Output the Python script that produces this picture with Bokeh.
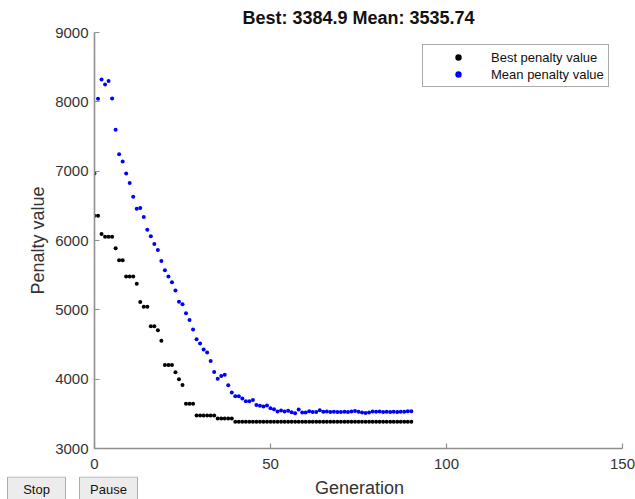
from bokeh.plotting import figure
from bokeh.layouts import column
from bokeh.models import Legend, LegendItem, Range1d, FixedTicker
from bokeh.core.properties import value
from bokeh.embed import file_html
from bokeh.resources import INLINE

# Genetic algorithm progress: penalty per generation
generations = list(range(91))

best_penalty = [
    6356, 6356, 6092, 6055, 6055, 6055, 5887, 5714, 5714, 5481,
    5481, 5481, 5375, 5112, 5045, 5045, 4763, 4763, 4706, 4555,
    4204, 4204, 4204, 4098, 3997, 3917, 3644, 3644, 3644, 3476,
    3476, 3476, 3476, 3476, 3476, 3433, 3433, 3433, 3433, 3433,
    3384.9, 3384.9, 3384.9, 3384.9, 3384.9, 3384.9, 3384.9, 3384.9, 3384.9, 3384.9,
    3384.9, 3384.9, 3384.9, 3384.9, 3384.9, 3384.9, 3384.9, 3384.9, 3384.9, 3384.9,
    3384.9, 3384.9, 3384.9, 3384.9, 3384.9, 3384.9, 3384.9, 3384.9, 3384.9, 3384.9,
    3384.9, 3384.9, 3384.9, 3384.9, 3384.9, 3384.9, 3384.9, 3384.9, 3384.9, 3384.9,
    3384.9, 3384.9, 3384.9, 3384.9, 3384.9, 3384.9, 3384.9, 3384.9, 3384.9, 3384.9,
    3384.9,
]

mean_penalty = [
    6967, 8043, 8321, 8250, 8301, 8049, 7598, 7245, 7139, 6967,
    6829, 6630, 6458, 6470, 6340, 6155, 6063, 5948, 5862, 5705,
    5571, 5481, 5399, 5280, 5115, 5079, 4950, 4855, 4715, 4574,
    4515, 4428, 4385, 4261, 4103, 4007, 4045, 4065, 3912, 3806,
    3753, 3753, 3720, 3681, 3681, 3701, 3629, 3615, 3605, 3620,
    3581, 3567, 3534, 3548, 3534, 3543, 3524, 3510, 3563, 3519,
    3519, 3538, 3525, 3528, 3552, 3530, 3535, 3527, 3530, 3528,
    3526, 3530, 3527, 3533, 3540, 3530, 3518, 3512, 3520, 3535,
    3530, 3532, 3527, 3530, 3526, 3530, 3528, 3531, 3530, 3538,
    3535.74,
]

x_ticks = [0, 50, 100, 150]
y_ticks = [3000, 4000, 5000, 6000, 7000, 8000, 9000]

button_names = ["Stop", "Pause"]

FONT = "Liberation Sans"
AXIS_GRAY = "#8f8f8f"
TEXT_DARK = "#333333"

p = figure(width=635, height=476,
           x_range=Range1d(0, 150), y_range=Range1d(3000, 9000),
           output_backend="svg", toolbar_location=None,
           min_border_left=94, min_border_right=13,
           min_border_top=30, min_border_bottom=28,
           background_fill_color="white", border_fill_color="white")

p.title.text = f"Best: {best_penalty[-1]} Mean: {mean_penalty[-1]}"
p.title.align = "center"
p.title.text_font = FONT
p.title.text_font_size = "18px"
p.title.text_font_style = "bold"
p.title.text_color = "#111111"

p.outline_line_color = None
p.xgrid.grid_line_color = None
p.ygrid.grid_line_color = None

p.xaxis.ticker = FixedTicker(ticks=x_ticks)
p.yaxis.ticker = FixedTicker(ticks=y_ticks)
p.yaxis.axis_label = "Penalty value"

for ax in (p.xaxis, p.yaxis):
    ax.axis_line_color = AXIS_GRAY
    ax.axis_line_width = 1.6
    ax.major_tick_line_color = AXIS_GRAY
    ax.major_tick_line_width = 1.2
    ax.major_tick_in = 5
    ax.major_tick_out = 0
    ax.minor_tick_line_color = None
    ax.major_label_text_font = FONT
    ax.major_label_text_font_size = "15px"
    ax.major_label_text_color = TEXT_DARK
    ax.axis_label_text_font = FONT
    ax.axis_label_text_font_size = "18px"
    ax.axis_label_text_font_style = "normal"
    ax.axis_label_text_color = TEXT_DARK

p.xaxis.major_label_standoff = 10
p.yaxis.major_label_standoff = 6
p.yaxis.axis_label_standoff = 4

r_best = p.scatter(generations, best_penalty, marker="circle", size=4,
                   fill_color="black", line_color=None)
r_mean = p.scatter(generations, mean_penalty, marker="circle", size=4,
                   fill_color="#0000ff", line_color=None)

legend = Legend(items=[LegendItem(label="Best penalty value", renderers=[r_best]),
                       LegendItem(label="Mean penalty value", renderers=[r_mean])],
                location=(328, 361), orientation="vertical",
                label_text_font=FONT, label_text_font_size="13px",
                label_text_color="#111111",
                glyph_width=62, glyph_height=16, label_height=16,
                label_standoff=2, spacing=1, padding=4, margin=0,
                border_line_color="#555555", border_line_width=1,
                background_fill_color="white", background_fill_alpha=1)
p.add_layout(legend)

# Bottom strip: Stop / Pause buttons and the x-axis title, in pixel units
strip = figure(width=635, height=23,
               x_range=Range1d(0, 635), y_range=Range1d(23, 0),
               output_backend="svg", toolbar_location=None,
               x_axis_location=None, y_axis_location=None,
               min_border=0, min_border_left=0, min_border_right=0,
               min_border_top=0, min_border_bottom=0,
               background_fill_color="white", border_fill_color="white")
strip.frame_align = False
strip.grid.visible = False
strip.outline_line_color = None

btn_left = [7, 79]
btn_right = [65, 137]
strip.quad(left=btn_left, right=btn_right, top=[0.5, 0.5], bottom=[25, 25],
           fill_color="#ececec", line_color="#adadad", line_width=1)
strip.text(x=[(l + r) / 2 for l, r in zip(btn_left, btn_right)], y=[12.5, 12.5],
           text=button_names, text_font=value(FONT), text_font_size="13px",
           text_color="#111111", text_align="center", text_baseline="middle")
strip.text(x=[359], y=[11], text=["Generation"], text_font=value(FONT),
           text_font_size="18px", text_color=TEXT_DARK,
           text_align="center", text_baseline="middle")

layout = column(p, strip, spacing=0)

open("out.html", "w").write(file_html(layout, INLINE))
